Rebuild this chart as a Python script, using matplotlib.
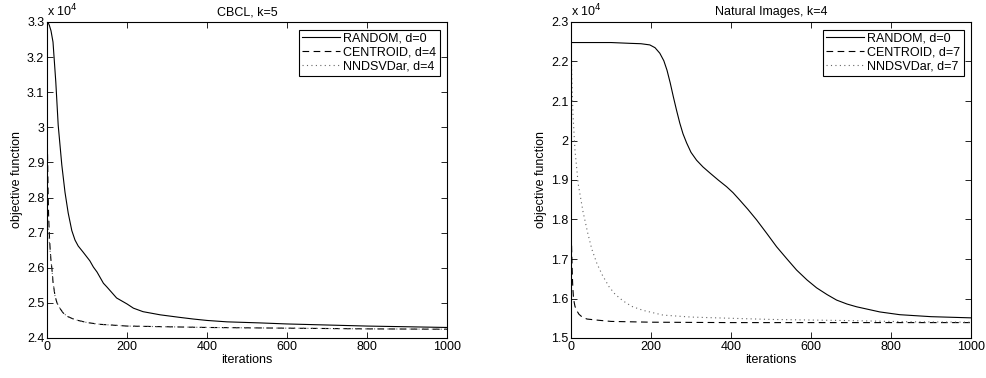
import matplotlib
matplotlib.use("Agg")
import matplotlib.pyplot as plt
from matplotlib.ticker import FuncFormatter

plt.rcParams['font.family'] = ['Liberation Sans', 'DejaVu Sans']
plt.rcParams['font.size'] = 9

# CBCL, k=5  (objective values in units of 1e4)
cbcl_rand_it = [0, 3, 6, 10, 15, 22, 28, 37, 45, 53, 62, 70, 78, 90, 107, 116, 125, 141, 150, 174, 200,
                216, 240, 283, 330, 366, 400, 450, 532, 600, 700, 800, 900, 1000]
cbcl_rand = [3.300, 3.298, 3.290, 3.275, 3.243, 3.129, 3.006, 2.893, 2.815, 2.756, 2.706, 2.679, 2.662,
             2.645, 2.620, 2.602, 2.588, 2.556, 2.545, 2.514, 2.497, 2.485, 2.475, 2.466, 2.459, 2.454,
             2.450, 2.446, 2.443, 2.440, 2.437, 2.434, 2.432, 2.430]

cbcl_cent_it = [0, 1, 2, 3, 4, 6, 8, 10, 12, 15, 20, 25, 32, 40, 50, 62, 74, 100, 132, 200, 300,
                400, 600, 800, 1000]
cbcl_cent = [3.05, 2.95, 2.87, 2.80, 2.75, 2.69, 2.65, 2.62, 2.60, 2.56, 2.52, 2.50, 2.485, 2.472,
             2.462, 2.456, 2.451, 2.444, 2.439, 2.434, 2.432, 2.430, 2.428, 2.426, 2.425]

cbcl_nnd_it = [0, 2, 4, 6, 8, 10, 12, 15, 20, 25, 32, 40, 50, 62, 74, 100, 132, 200, 300, 400,
               600, 800, 1000]
cbcl_nnd = [2.80, 2.74, 2.70, 2.67, 2.645, 2.62, 2.60, 2.56, 2.52, 2.50, 2.485, 2.472, 2.462, 2.456,
            2.451, 2.444, 2.439, 2.434, 2.432, 2.430, 2.428, 2.426, 2.425]

# Natural Images, k=4
nat_rand_it = [0, 100, 147, 175, 197, 210, 222, 232, 240, 248, 256, 264, 272, 280, 289, 300, 314,
               330, 347, 368, 389, 405, 422, 442, 464, 490, 514, 540, 564, 590, 614, 640, 664, 690,
               714, 772, 822, 900, 1000]
nat_rand = [2.248, 2.248, 2.246, 2.245, 2.242, 2.235, 2.221, 2.202, 2.178, 2.146, 2.110, 2.076, 2.044,
            2.017, 1.994, 1.970, 1.950, 1.933, 1.918, 1.900, 1.883, 1.868, 1.849, 1.826, 1.799, 1.764,
            1.731, 1.700, 1.672, 1.647, 1.627, 1.610, 1.596, 1.586, 1.579, 1.566, 1.559, 1.554, 1.551]

nat_cent_it = [0, 1, 2, 3, 4, 5, 6, 8, 10, 14, 20, 28, 40, 68, 100, 200, 400, 600, 800, 1000]
nat_cent = [1.79, 1.75, 1.71, 1.67, 1.64, 1.62, 1.605, 1.59, 1.58, 1.57, 1.56, 1.553, 1.548, 1.545,
            1.542, 1.540, 1.539, 1.539, 1.539, 1.539]

nat_nnd_it = [0, 2, 5, 10, 18, 30, 42, 52, 65, 78, 95, 110, 130, 152, 180, 230, 300, 397, 500, 700,
              850, 1000]
nat_nnd = [2.27, 2.16, 2.065, 1.975, 1.89, 1.82, 1.765, 1.725, 1.688, 1.66, 1.63, 1.611, 1.594,
           1.580, 1.570, 1.558, 1.553, 1.550, 1.547, 1.544, 1.541, 1.540]

panels = [
    ("CBCL, k=5", (2.4, 3.3),
     [(cbcl_rand_it, cbcl_rand, "RANDOM, d=0"),
      (cbcl_cent_it, cbcl_cent, "CENTROID, d=4"),
      (cbcl_nnd_it, cbcl_nnd, "NNDSVDar, d=4")]),
    ("Natural Images, k=4", (1.5, 2.3),
     [(nat_rand_it, nat_rand, "RANDOM, d=0"),
      (nat_cent_it, nat_cent, "CENTROID, d=7"),
      (nat_nnd_it, nat_nnd, "NNDSVDar, d=7")]),
]

fig = plt.figure(figsize=(9.86, 3.78), dpi=100)
lefts = [47 / 986, 571 / 986]
for left, (title, ylim, series) in zip(lefts, panels):
    ax = fig.add_axes([left, 1 - 338 / 378, 400 / 986, 316 / 378])
    (x0, y0, l0), (x1, y1, l1), (x2, y2, l2) = series
    ax.plot(x0, y0, color='black', lw=0.8, label=l0)
    ax.plot(x1, y1, color='black', lw=0.8, dashes=(6, 4), label=l1)
    ax.plot(x2, y2, color='0.4', lw=0.8, dashes=(1, 3), label=l2)

    ax.set_xlim(0, 1000)
    ax.set_ylim(*ylim)
    ax.set_xticks(range(0, 1001, 200))
    ax.yaxis.set_major_formatter(FuncFormatter(lambda v, p: '%g' % round(v, 2)))
    ax.tick_params(direction='in', length=4, width=0.6, top=True, right=True, labelsize=9, pad=2)
    for s in ax.spines.values():
        s.set_linewidth(0.8)

    ax.set_title(title, fontsize=9, pad=5)
    ax.set_xlabel("iterations", fontsize=9, labelpad=1)
    ax.set_ylabel("objective function", fontsize=9, labelpad=3)
    ax.text(0.0, 1.01, r'x 10$^{4}$', transform=ax.transAxes, fontsize=9, ha='left', va='bottom')

    leg = ax.legend(loc='upper right', fontsize=9, handlelength=3.0, handletextpad=0.3,
                    borderaxespad=0.6, borderpad=0.25, labelspacing=0.15, fancybox=False,
                    framealpha=1)
    leg.get_frame().set_edgecolor('black')
    leg.get_frame().set_linewidth(0.8)

fig.savefig("out.png", dpi=100)
